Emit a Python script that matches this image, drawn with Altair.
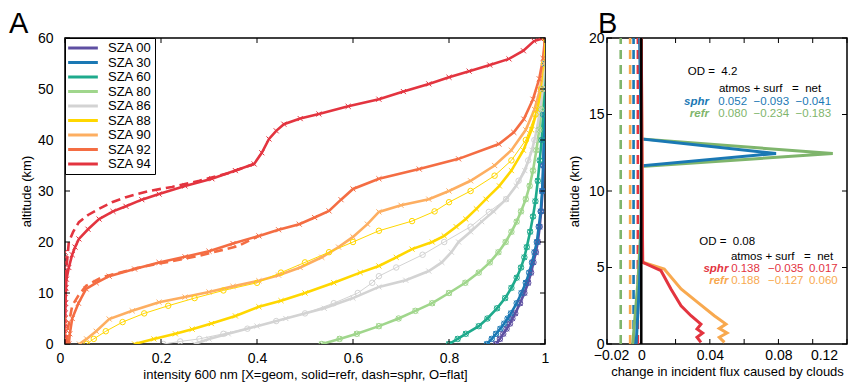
import altair as alt
import pandas as pd

FONT = "Liberation Sans"

# ---------------- Panel A data ----------------
sza_names = ["SZA 00", "SZA 30", "SZA 60", "SZA 80", "SZA 86", "SZA 88", "SZA 90", "SZA 92", "SZA 94"]
sza_colors = ["#5e4fa2", "#1a78b4", "#1eaa8c", "#a0d68c", "#d3d3d3", "#ffd700", "#fdae61", "#f46d43", "#e3343f"]

alt_00 = [0, 1, 2, 3, 4, 5, 6, 8, 10, 12, 14, 16, 18, 20, 23, 26, 30, 35, 40, 45, 50, 55, 60]
int_00 = [0.898, 0.906, 0.913, 0.920, 0.927, 0.932, 0.938, 0.948, 0.957, 0.965, 0.971, 0.976, 0.981, 0.985, 0.989, 0.992, 0.995, 0.997, 0.998, 0.999, 1.0, 1.0, 1.0]
alt_30 = [0, 1, 2, 3, 4, 5, 6, 8, 10, 12, 14, 16, 18, 20, 23, 26, 30, 35, 40, 45, 50, 55, 60]
int_30 = [0.879, 0.889, 0.898, 0.907, 0.915, 0.922, 0.929, 0.941, 0.951, 0.960, 0.967, 0.973, 0.978, 0.983, 0.987, 0.991, 0.994, 0.996, 0.998, 0.999, 1.0, 1.0, 1.0]
alt_60 = [0, 1, 2, 3.5, 5, 7, 9, 11, 13, 15, 17, 19, 22, 25, 28, 32, 36, 40, 45, 50, 55, 60]
int_60 = [0.800, 0.818, 0.835, 0.862, 0.880, 0.900, 0.917, 0.930, 0.941, 0.950, 0.957, 0.962, 0.969, 0.975, 0.980, 0.985, 0.989, 0.993, 0.996, 0.998, 0.999, 1.0]
alt_80 = [0, 1, 2, 3.5, 5, 6.5, 8, 10, 12, 14, 16, 18, 20, 22, 24, 26, 28.4, 31, 34, 38, 42, 46, 50, 55, 60]
int_80 = [0.535, 0.572, 0.608, 0.654, 0.695, 0.730, 0.765, 0.800, 0.834, 0.862, 0.885, 0.903, 0.918, 0.930, 0.941, 0.950, 0.960, 0.968, 0.975, 0.982, 0.988, 0.992, 0.995, 0.998, 1.0]
alt_86 = [0, 1, 2, 3.5, 5, 7, 9, 11.2, 12.5, 14.3, 16, 18, 20, 22, 24, 26, 28.4, 31, 34, 38, 42, 46, 50, 55, 60]
int_86 = [0.270, 0.300, 0.340, 0.400, 0.460, 0.540, 0.600, 0.654, 0.710, 0.758, 0.785, 0.805, 0.820, 0.845, 0.868, 0.893, 0.919, 0.940, 0.958, 0.973, 0.983, 0.990, 0.995, 0.998, 1.0]
alt_88 = [0, 1, 2, 2.9, 4, 5.5, 7.3, 8.5, 10, 12, 14, 15.3, 17, 18.6, 20, 21.2, 23, 24.5, 26.5, 28.4, 31, 34, 38, 42, 46, 50, 55, 60]
int_88 = [0.145, 0.185, 0.230, 0.265, 0.305, 0.355, 0.404, 0.450, 0.500, 0.560, 0.615, 0.654, 0.690, 0.723, 0.765, 0.790, 0.815, 0.835, 0.857, 0.877, 0.905, 0.930, 0.955, 0.972, 0.984, 0.992, 0.997, 1.0]
alt_90 = [0, 1, 2.5, 4.9, 6.5, 8.2, 9.2, 10.2, 11.3, 12.4, 13.5, 15, 17, 19, 21, 23.5, 25.9, 27.2, 28.4, 30, 32, 35, 38, 42, 46, 50, 55, 60]
int_90 = [0.030, 0.045, 0.065, 0.092, 0.140, 0.196, 0.250, 0.300, 0.350, 0.404, 0.445, 0.490, 0.535, 0.570, 0.600, 0.630, 0.654, 0.700, 0.758, 0.800, 0.845, 0.895, 0.930, 0.960, 0.978, 0.990, 0.997, 1.0]
alt_92 = [0, 2, 5, 8, 10.8, 12, 13.3, 14.7, 16, 17.1, 18.2, 19.7, 21.2, 22.4, 23.5, 24.8, 26.1, 28.3, 30.4, 32.4, 34.3, 36.3, 39.2, 41.5, 44.1, 48, 52, 56, 60]
int_92 = [0.008, 0.010, 0.015, 0.028, 0.044, 0.065, 0.092, 0.145, 0.196, 0.250, 0.300, 0.350, 0.404, 0.445, 0.488, 0.520, 0.550, 0.575, 0.600, 0.654, 0.738, 0.820, 0.904, 0.935, 0.956, 0.975, 0.988, 0.996, 1.0]
alt_94 = [0, 4, 8, 11, 12.7, 15, 17.5, 19, 20.6, 22.5, 24.5, 26, 27, 28.3, 29.4, 31, 32.4, 34, 35.3, 37.5, 40.2, 41.8, 43.1, 44.2, 45.1, 46.6, 48, 49.5, 51, 52.3, 53.5, 54.7, 55.9, 57.5, 59.4, 60]
int_94 = [0.0, 0.0, 0.001, 0.002, 0.003, 0.008, 0.015, 0.021, 0.029, 0.048, 0.071, 0.100, 0.127, 0.160, 0.196, 0.250, 0.306, 0.355, 0.394, 0.410, 0.425, 0.440, 0.456, 0.490, 0.529, 0.590, 0.654, 0.705, 0.758, 0.800, 0.842, 0.885, 0.925, 0.955, 0.977, 1.0]

# spherical (dashed)
sphr_alt_92 = [0, 3, 5, 7.5, 9.5, 11.4, 13.1, 15.1, 17.3, 19.2, 21.2]
sphr_int_92 = [0.004, 0.006, 0.010, 0.015, 0.028, 0.044, 0.077, 0.160, 0.280, 0.360, 0.404]
sphr_alt_94 = [10, 15, 18, 20, 22, 23.9, 25.3, 26.5, 27.8, 28.8, 30, 30.8, 32, 33.5, 35.3]
sphr_int_94 = [0.0, 0.003, 0.006, 0.008, 0.017, 0.029, 0.048, 0.071, 0.098, 0.127, 0.175, 0.223, 0.280, 0.340, 0.394]

# flat (circles) where it departs from refr
flat_alt_86 = [0, 0.5, 1, 2, 3, 4.5, 6, 8, 10, 12, 13.3, 15, 17.5, 20, 23, 25.9, 28.4, 32, 36, 40, 45, 50, 55, 60]
flat_int_86 = [0.205, 0.240, 0.280, 0.330, 0.380, 0.440, 0.500, 0.560, 0.610, 0.640, 0.654, 0.690, 0.745, 0.790, 0.845, 0.883, 0.919, 0.945, 0.965, 0.978, 0.988, 0.995, 0.998, 1.0]
flat_alt_88 = [0, 1, 2.5, 4.3, 6, 7.5, 9, 10.5, 12, 14, 16, 18, 20, 22.2, 24.1, 26, 27.8, 30, 33, 36, 40, 45, 50, 55, 60]
flat_int_88 = [0.045, 0.060, 0.085, 0.120, 0.165, 0.215, 0.270, 0.330, 0.400, 0.450, 0.500, 0.550, 0.600, 0.654, 0.723, 0.770, 0.800, 0.845, 0.895, 0.930, 0.960, 0.980, 0.992, 0.998, 1.0]

# geometric: zero intensity below the shadow
geom_zero_alt_94 = [0, 1, 2, 3, 4, 5, 6, 7, 8, 9, 10, 11, 12, 13, 14, 15, 16, 17, 18]
geom_zero_alt_92 = [0, 1, 2, 3, 4, 5]

a_xticks = [0, 0.2, 0.4, 0.6, 0.8, 1.0]
a_yticks = [0, 10, 20, 30, 40, 50, 60]

# ---------------- Panel B data ----------------
b_names = ["sphr 4.2", "refr 4.2", "sphr 0.08", "refr 0.08"]
b_colors = ["#1a78b4", "#7fb56c", "#e3343f", "#f8a94f"]

b_alt_sphr42 = [0, 2, 4, 6, 8, 11.65, 12.45, 13.4, 20]
b_flx_sphr42 = [-0.003, -0.002, -0.001, -0.0003, 0.0, 0.0, 0.0786, 0.0, -0.001]
b_alt_refr42 = [0, 2, 4, 6, 8, 11.6, 12.45, 13.4, 20]
b_flx_refr42 = [-0.005, -0.0035, -0.002, -0.001, 0.0, 0.0, 0.1117, 0.0, 0.0]
b_alt_sphr008 = [0.11, 0.44, 0.72, 0.98, 1.3, 1.85, 2.5, 3.6, 4.79, 5.34, 20]
b_flx_sphr008 = [0.0348, 0.0325, 0.0358, 0.0325, 0.0348, 0.029, 0.0232, 0.0173, 0.0115, 0.0008, 0.0]
b_alt_refr008 = [0.11, 0.44, 0.72, 1.02, 1.3, 1.85, 2.72, 3.6, 4.9, 5.34, 20]
b_flx_refr008 = [0.0485, 0.0455, 0.050, 0.0455, 0.0494, 0.0426, 0.0329, 0.0232, 0.0134, 0.0008, 0.0]

b_clear_x = [-0.012, -0.0065, -0.0045, -0.002]
b_clear_colors = ["#7fb56c", "#f8a94f", "#1a78b4", "#e3343f"]

b_xticks = [-0.02, 0, 0.02, 0.04, 0.06, 0.08, 0.10, 0.12]
b_xlabels = [-0.02, 0, 0.04, 0.08, 0.12]
b_yticks = [0, 5, 10, 15, 20]

# annotation texts
od_text = ["OD =\u00a0 4.2", "OD =\u00a0 0.08"]
hdr_text = ["atmos + surf \u00a0 = \u00a0net", "atmos + surf \u00a0 = \u00a0net"]
lab_text = ["sphr", "refr", "sphr", "refr"]
lab_colors = ["#1a78b4", "#7fb56c", "#e3343f", "#f8a94f"]
num_text = [["0.052", "\u22120.093", "\u22120.041"],
            ["0.080", "\u22120.234", "\u22120.183"],
            ["0.138", "\u22120.035", "0.017"],
            ["0.188", "\u22120.127", "0.060"]]

# annotation placement (data coordinates of panel B)
od_pos = [(0.0271, 17.78), (0.0338, 6.65)]
hdr_pos = [(0.0453, 16.67), (0.0523, 5.67)]
lab_pos = [(0.0395, 15.84), (0.0395, 15.03), (0.0508, 4.90), (0.0508, 4.14)]
num_right = [[0.0617, 0.0862, 0.1107], [0.0617, 0.0862, 0.1107],
             [0.0692, 0.0946, 0.1146], [0.0692, 0.0946, 0.1146]]

# ---------------- build tables ----------------
refr_curves = [("SZA 00", alt_00, int_00), ("SZA 30", alt_30, int_30), ("SZA 60", alt_60, int_60),
               ("SZA 80", alt_80, int_80), ("SZA 86", alt_86, int_86), ("SZA 88", alt_88, int_88),
               ("SZA 90", alt_90, int_90), ("SZA 92", alt_92, int_92), ("SZA 94", alt_94, int_94)]


def long(curves):
    rows = []
    for name, a, v in curves:
        for y, x in zip(a, v):
            rows.append({"sza": name, "alt": y, "intensity": x})
    return pd.DataFrame(rows)


refr_df = long(refr_curves)
sphr_df = long([("SZA 92", sphr_alt_92, sphr_int_92), ("SZA 94", sphr_alt_94, sphr_int_94)])
flat_line_df = long([("SZA 86", flat_alt_86, flat_int_86), ("SZA 88", flat_alt_88, flat_int_88)])
flat_pt_df = pd.concat([long(refr_curves[:4]), flat_line_df])
geom_df = pd.concat([refr_df,
                     long([("SZA 94", geom_zero_alt_94, [0.0] * len(geom_zero_alt_94)),
                           ("SZA 92", geom_zero_alt_92, [0.0] * len(geom_zero_alt_92))])])

W_A, H = 480, 306
W_B = 240
TK = 5

color_a = alt.Scale(domain=sza_names, range=sza_colors)
xs_a = alt.Scale(domain=[0, 1], nice=False, zero=False)
ys_a = alt.Scale(domain=[0, 60], nice=False, zero=False)

legend_a = alt.Legend(title=None, orient="top-left", offset=0, symbolType="M-2.7,0H2.7",
                      symbolSize=121, symbolStrokeWidth=3, symbolOffset=8, labelOffset=18,
                      labelFontSize=13, labelFont=FONT, labelColor="black", strokeColor="black",
                      fillColor="white", padding=3, rowPadding=0.5)

x_axis_a = alt.Axis(values=a_xticks, format=".1~f", ticks=False, tickSize=0, domain=False, grid=False,
                    labelPadding=7, labelOverlap=False, labelFlush=False,
                    labelOffset={"expr": "datum.value < 0.01 ? -5 : 0"},
                    title="intensity 600 nm [X=geom, solid=refr, dash=sphr, O=flat]", titlePadding=3)
y_axis_a = alt.Axis(values=a_yticks, ticks=False, tickSize=0, domain=False, grid=False,
                    labelPadding=12, labelOverlap=False, labelFlush=False,
                    title="altitude (km)", titlePadding=4)


def xa():
    return alt.X("intensity:Q", scale=xs_a, axis=x_axis_a)


def ya():
    return alt.Y("alt:Q", scale=ys_a, axis=y_axis_a)


def ca():
    return alt.Color("sza:N", scale=color_a, legend=legend_a)


X_PATH = "M-1,-1L1,1M-1,1L1,-1"

sphr_layer = alt.Chart(sphr_df).mark_line(strokeDash=[9, 5], strokeWidth=2.6, clip=True).encode(
    x=xa(), y=ya(), color=ca(), order="alt:Q")
refr_layer = alt.Chart(refr_df).mark_line(strokeWidth=2.6, clip=True).encode(
    x=xa(), y=ya(), color=ca(), order="alt:Q")
geom_layer = alt.Chart(geom_df).mark_point(shape=X_PATH, size=26, strokeWidth=1, filled=False, opacity=1,
                                           clip=True).encode(x=xa(), y=ya(), color=ca())
flat_line_layer = alt.Chart(flat_line_df).mark_line(strokeWidth=1, clip=True).encode(
    x=xa(), y=ya(), color=ca(), order="alt:Q")
flat_pt_layer = alt.Chart(flat_pt_df).mark_point(shape="circle", size=30, strokeWidth=1, filled=False,
                                                 opacity=1, clip=True).encode(x=xa(), y=ya(), color=ca())

xt_a = pd.DataFrame({"intensity": a_xticks})
yt_a = pd.DataFrame({"alt": a_yticks})
ticks_a = [
    alt.Chart(xt_a).mark_rule(color="black", strokeWidth=1).encode(x=xa(), y=alt.value(H), y2=alt.value(H - TK)),
    alt.Chart(xt_a).mark_rule(color="black", strokeWidth=1).encode(x=xa(), y=alt.value(0), y2=alt.value(TK)),
    alt.Chart(yt_a).mark_rule(color="black", strokeWidth=1).encode(y=ya(), x=alt.value(0), x2=alt.value(TK)),
    alt.Chart(yt_a).mark_rule(color="black", strokeWidth=1).encode(y=ya(), x=alt.value(W_A), x2=alt.value(W_A - TK)),
]

panel_a = alt.layer(sphr_layer, refr_layer, flat_line_layer, flat_pt_layer, geom_layer, *ticks_a).properties(
    width=W_A, height=H,
    title=alt.TitleParams("A", anchor="start", frame="group", dx=-56, offset=-8, fontSize=29,
                          font=FONT, fontWeight="normal", color="black"))

# ---------------- Panel B ----------------
xs_b = alt.Scale(domain=[-0.02, 0.12], nice=False, zero=False)
ys_b = alt.Scale(domain=[0, 20], nice=False, zero=False)
x_axis_b = alt.Axis(values=b_xlabels, format=".2~f", ticks=False, tickSize=0, domain=False, grid=False,
                    labelPadding=4, labelOverlap=False, labelFlush=False,
                    labelOffset={"expr": "datum.value > 0.1 ? -23 : (datum.value < -0.01 ? 4 : 0)"},
                    title="change in incident flux caused by clouds", titlePadding=3)
y_axis_b = alt.Axis(values=b_yticks, ticks=False, tickSize=0, domain=False, grid=False,
                    labelPadding=3, labelOverlap=False, labelFlush=False,
                    title="altitude (km)", titlePadding=7)


def xb():
    return alt.X("flux:Q", scale=xs_b, axis=x_axis_b)


def yb():
    return alt.Y("alt:Q", scale=ys_b, axis=y_axis_b)


b_rows = []
for name, a, v in [("sphr 4.2", b_alt_sphr42, b_flx_sphr42), ("refr 4.2", b_alt_refr42, b_flx_refr42),
                   ("sphr 0.08", b_alt_sphr008, b_flx_sphr008), ("refr 0.08", b_alt_refr008, b_flx_refr008)]:
    for y, x in zip(a, v):
        b_rows.append({"case": name, "alt": y, "flux": x})
b_df = pd.DataFrame(b_rows)
color_b = alt.Scale(domain=b_names, range=b_colors)

clear_df = pd.DataFrame({"flux": b_clear_x, "alt": [0] * 4, "alt2": [20] * 4, "c": b_clear_colors})
clear_layer = alt.Chart(clear_df).mark_rule(strokeDash=[9, 6], strokeWidth=2.6).encode(
    x=xb(), y=yb(), y2="alt2:Q", color=alt.Color("c:N", scale=None))
zero_layer = alt.Chart(pd.DataFrame({"flux": [0.0], "alt": [0], "alt2": [20]})).mark_rule(
    color="black", strokeWidth=2.5).encode(x=xb(), y=yb(), y2="alt2:Q")

b_line_order = ["refr 4.2", "sphr 4.2", "refr 0.08", "sphr 0.08"]
b_lines = [alt.Chart(b_df[b_df["case"] == c]).mark_line(strokeWidth=3, clip=True).encode(
    x=xb(), y=yb(), color=alt.Color("case:N", scale=color_b, legend=None), order=alt.Order("alt:Q"))
    for c in b_line_order]

od_df = pd.DataFrame({"t": od_text, "flux": [p[0] for p in od_pos], "alt": [p[1] for p in od_pos]})
hdr_df = pd.DataFrame({"t": hdr_text, "flux": [p[0] for p in hdr_pos], "alt": [p[1] for p in hdr_pos]})
lab_df = pd.DataFrame({"t": lab_text, "flux": [p[0] for p in lab_pos], "alt": [p[1] for p in lab_pos],
                       "c": lab_colors})
num_rows = []
for i, row in enumerate(num_text):
    for j, t in enumerate(row):
        num_rows.append({"t": t, "flux": num_right[i][j], "alt": lab_pos[i][1], "c": lab_colors[i]})
num_df = pd.DataFrame(num_rows)

TXT = 11.5
txt_layers = [
    alt.Chart(od_df).mark_text(align="left", baseline="middle", font=FONT, fontSize=TXT, color="black").encode(
        x=xb(), y=yb(), text="t:N"),
    alt.Chart(hdr_df).mark_text(align="left", baseline="middle", font=FONT, fontSize=TXT, color="black").encode(
        x=xb(), y=yb(), text="t:N"),
    alt.Chart(lab_df).mark_text(align="right", baseline="middle", font=FONT, fontSize=TXT, fontStyle="italic",
                                fontWeight="bold").encode(x=xb(), y=yb(), text="t:N",
                                                          color=alt.Color("c:N", scale=None)),
    alt.Chart(num_df).mark_text(align="right", baseline="middle", font=FONT, fontSize=TXT).encode(
        x=xb(), y=yb(), text="t:N", color=alt.Color("c:N", scale=None)),
]

xt_b = pd.DataFrame({"flux": b_xticks})
yt_b = pd.DataFrame({"alt": b_yticks})
ticks_b = [
    alt.Chart(xt_b).mark_rule(color="black", strokeWidth=1).encode(x=xb(), y=alt.value(H), y2=alt.value(H - TK)),
    alt.Chart(xt_b).mark_rule(color="black", strokeWidth=1).encode(x=xb(), y=alt.value(0), y2=alt.value(TK)),
    alt.Chart(yt_b).mark_rule(color="black", strokeWidth=1).encode(y=yb(), x=alt.value(0), x2=alt.value(TK)),
    alt.Chart(yt_b).mark_rule(color="black", strokeWidth=1).encode(y=yb(), x=alt.value(W_B), x2=alt.value(W_B - TK)),
]

panel_b = alt.layer(clear_layer, *b_lines, zero_layer, *txt_layers, *ticks_b).properties(
    width=W_B, height=H,
    title=alt.TitleParams("B", anchor="start", frame="group", dx=-9, offset=-8, fontSize=29,
                          font=FONT, fontWeight="normal", color="black"))

chart = alt.hconcat(panel_a, panel_b, spacing=17).resolve_scale(color="independent").properties(
    padding={"left": 0, "top": 1, "right": 2, "bottom": 0}, background="white"
).configure_view(stroke="black", strokeWidth=1.5).configure_axis(
    labelFont=FONT, labelFontSize=14, labelColor="black", titleFont=FONT, titleFontSize=13,
    titleFontWeight="normal", titleColor="black"
)

chart.save("out.html", embed_options={"renderer": "svg", "actions": False})
